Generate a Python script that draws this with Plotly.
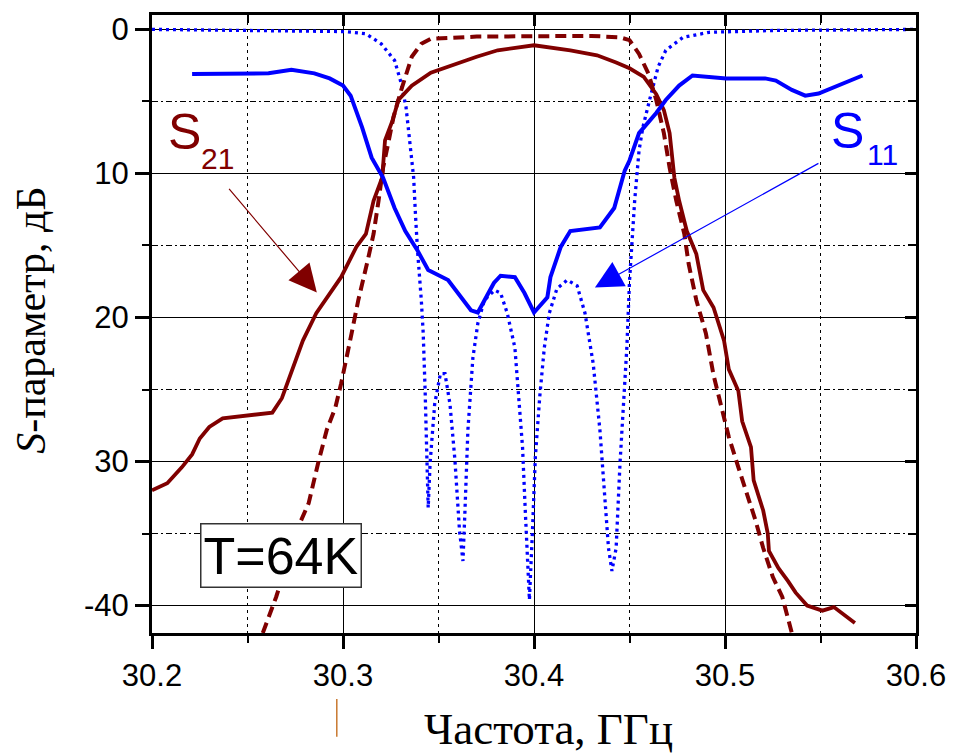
import plotly.graph_objects as go

# Frequency axis (GHz) and S-parameter magnitudes (dB, plotted downward)
s21_meas_f = [30.200, 30.208, 30.2156, 30.221, 30.225, 30.230, 30.237, 30.249, 30.263, 30.268,
              30.272, 30.279, 30.286, 30.293, 30.299, 30.307, 30.312, 30.316, 30.3205, 30.322,
              30.326, 30.329, 30.336, 30.346, 30.364, 30.370, 30.381, 30.400, 30.419, 30.433,
              30.443, 30.450, 30.4575, 30.464, 30.468, 30.471, 30.4735, 30.476, 30.480, 30.485,
              30.4886, 30.494, 30.4995, 30.502, 30.507, 30.509, 30.5136, 30.515, 30.520, 30.5224,
              30.523, 30.528, 30.533, 30.537, 30.543, 30.551, 30.557, 30.561, 30.568]
s21_meas_db = [31.99, 31.5, 30.4, 29.5, 28.4, 27.6, 27.0, 26.8, 26.6, 25.6,
               24.2, 21.6, 19.7, 18.4, 17.2, 15.1, 14.2, 11.9, 10.3, 7.7,
               6.3, 4.9, 3.9, 3.0, 2.15, 1.9, 1.45, 1.1, 1.45, 1.8,
               2.3, 2.7, 3.3, 4.5, 5.6, 7.2, 10.3, 11.9, 14.0, 15.6,
               18.1, 19.3, 21.6, 23.6, 25.1, 27.2, 29.0, 31.3, 33.4, 35.0,
               36.2, 37.4, 38.3, 39.1, 40.0, 40.35, 40.1, 40.5, 41.2]

s21_sim_f = [30.258, 30.265, 30.278, 30.282, 30.287, 30.2915, 30.296, 30.299, 30.3045, 30.308,
             30.313, 30.316, 30.3186, 30.321, 30.324, 30.3264, 30.3305, 30.336, 30.341, 30.346,
             30.370, 30.400, 30.430, 30.445, 30.450, 30.455, 30.460, 30.464, 30.468, 30.471,
             30.4745, 30.4787, 30.481, 30.485, 30.490, 30.494, 30.499, 30.502, 30.507, 30.511,
             30.516, 30.520, 30.525, 30.530, 30.535]
s21_sim_db = [41.9, 39.4, 34.1, 32.9, 30.1, 27.8, 26.25, 24.6, 21.1, 18.8,
              16.0, 14.2, 11.9, 9.6, 7.7, 6.1, 4.2, 1.9, 1.0, 0.65,
              0.5, 0.45, 0.45, 0.55, 0.75, 1.7, 3.1, 4.9, 7.2, 9.6,
              11.9, 14.2, 16.3, 18.8, 21.1, 24.0, 26.7, 28.3, 30.4, 32.0,
              34.1, 36.0, 38.0, 39.4, 41.9]

s11_meas_f = [30.221, 30.241, 30.261, 30.273, 30.285, 30.293, 30.300, 30.304, 30.310, 30.315,
              30.321, 30.327, 30.3326, 30.339, 30.3446, 30.355, 30.3617, 30.367, 30.3706, 30.374,
              30.379, 30.3825, 30.390, 30.395, 30.400, 30.407, 30.4086, 30.414, 30.419, 30.4345,
              30.442, 30.4475, 30.450, 30.455, 30.464, 30.469, 30.476, 30.483, 30.5006, 30.521,
              30.5266, 30.535, 30.542, 30.549, 30.5614, 30.572]
s11_meas_db = [3.1, 3.05, 3.05, 2.8, 3.05, 3.4, 3.9, 4.6, 6.8, 8.9,
               10.3, 12.4, 14.0, 15.35, 16.7, 17.4, 18.6, 19.5, 19.65, 18.8,
               17.6, 17.1, 17.2, 18.3, 19.65, 18.6, 17.2, 15.1, 14.0, 13.75,
               12.4, 9.8, 9.1, 7.2, 5.8, 4.9, 3.9, 3.2, 3.4, 3.4,
               3.55, 4.2, 4.6, 4.45, 3.75, 3.2]

s11_sim_f = [30.200, 30.250, 30.290, 30.301, 30.312, 30.320, 30.327, 30.3305, 30.333, 30.335,
             30.337, 30.338, 30.339, 30.341, 30.342, 30.343, 30.3436, 30.3446, 30.3456, 30.348,
             30.351, 30.3534, 30.356, 30.3586, 30.361, 30.3628, 30.3638, 30.3654, 30.368, 30.3706,
             30.374, 30.3794, 30.3825, 30.386, 30.390, 30.392, 30.394, 30.3955, 30.3976, 30.3992,
             30.4007, 30.403, 30.4054, 30.408, 30.412, 30.4174, 30.4226, 30.4267, 30.431, 30.4345,
             30.437, 30.439, 30.4408, 30.443, 30.445, 30.447, 30.4486, 30.450, 30.4527, 30.455,
             30.457, 30.4605, 30.465, 30.469, 30.478, 30.4917, 30.527, 30.600]
s11_sim_db = [0.0, 0.05, 0.1, 0.15, 0.3, 1.0, 2.15, 3.75, 5.4, 7.7,
              10.3, 13.0, 15.3, 18.8, 21.1, 25.1, 28.3, 33.2, 30.1, 26.0,
              23.9, 23.9, 26.0, 29.9, 34.8, 36.9, 33.6, 27.8, 22.8, 20.4,
              18.8, 18.1, 18.3, 19.7, 22.1, 25.5, 29.0, 33.6, 39.6, 34.8,
              29.7, 25.5, 22.1, 19.7, 18.0, 17.4, 17.8, 19.7, 23.2, 27.8,
              32.5, 36.0, 37.6, 36.0, 30.2, 25.5, 22.1, 17.5, 11.9, 8.4,
              6.8, 4.9, 2.6, 1.45, 0.55, 0.2, 0.07, 0.0]

x_ticks = [30.2, 30.3, 30.4, 30.5, 30.6]
x_minor = [30.25, 30.35, 30.45, 30.55]
y_ticks = [0, 10, 20, 30, 40]
y_tick_text = ["0", "10", "20", "30", "-40"]
y_minor = [5, 15, 25, 35]

DARK_RED = "#800000"
BLUE = "#0000FF"
X_RANGE = [30.2, 30.6]
Y_RANGE = [41.9, -1.0]

fig = go.Figure()
fig.add_trace(go.Scatter(x=s11_sim_f, y=s11_sim_db, mode="lines",
                         line=dict(color=BLUE, width=3.3, dash="3px,4px")))
fig.add_trace(go.Scatter(x=s21_sim_f, y=s21_sim_db, mode="lines",
                         line=dict(color=DARK_RED, width=4, dash="11px,6px")))
fig.add_trace(go.Scatter(x=s21_meas_f, y=s21_meas_db, mode="lines",
                         line=dict(color=DARK_RED, width=3.8)))
fig.add_trace(go.Scatter(x=s11_meas_f, y=s11_meas_db, mode="lines",
                         line=dict(color=BLUE, width=4)))

tick_font = dict(family="Liberation Sans, Arial", size=31, color="black")

fig.update_layout(
    width=958, height=754,
    margin=dict(l=152, r=37, t=14, b=121),
    paper_bgcolor="white", plot_bgcolor="white",
    showlegend=False,
    xaxis=dict(
        range=X_RANGE, tickmode="array", tickvals=x_ticks,
        ticktext=[f"{v:.1f}" for v in x_ticks],
        ticks="outside", ticklen=13, tickwidth=2.5, tickcolor="black",
        tickfont=tick_font,
        showgrid=True, gridcolor="black", gridwidth=1.2,
        minor=dict(tickmode="array", tickvals=x_minor,
                   ticks="outside", ticklen=7, tickwidth=2, tickcolor="black",
                   showgrid=True, gridcolor="black", gridwidth=1, griddash="3px,4px"),
        showline=True, linecolor="black", linewidth=3, mirror=True,
        zeroline=False,
    ),
    yaxis=dict(
        range=Y_RANGE, tickmode="array", tickvals=y_ticks, ticktext=y_tick_text,
        ticks="outside", ticklen=14, tickwidth=2.5, tickcolor="black",
        tickfont=tick_font,
        showgrid=True, gridcolor="black", gridwidth=1.2,
        minor=dict(tickmode="array", tickvals=y_minor,
                   ticks="outside", ticklen=7, tickwidth=2, tickcolor="black",
                   showgrid=True, gridcolor="black", gridwidth=1,
                   griddash="6px,3px,2px,3px"),
        showline=True, linecolor="black", linewidth=3, mirror=True,
        zeroline=False,
    ),
    # inward ticks along the top and right edges of the frame
    xaxis2=dict(
        range=X_RANGE, overlaying="x", side="top", anchor="y",
        tickmode="array", tickvals=x_ticks, showticklabels=False,
        ticks="inside", ticklen=11, tickwidth=2.5, tickcolor="black",
        minor=dict(tickmode="array", tickvals=x_minor,
                   ticks="inside", ticklen=8, tickwidth=2, tickcolor="black"),
        showgrid=False, zeroline=False, showline=False,
    ),
    yaxis2=dict(
        range=Y_RANGE, overlaying="y", side="right", anchor="x",
        tickmode="array", tickvals=y_ticks, showticklabels=False,
        ticks="inside", ticklen=11, tickwidth=2.5, tickcolor="black",
        minor=dict(tickmode="array", tickvals=y_minor,
                   ticks="inside", ticklen=8, tickwidth=2, tickcolor="black"),
        showgrid=False, zeroline=False, showline=False,
    ),
)

# invisible trace so the mirror axes are rendered
fig.add_trace(go.Scatter(x=[X_RANGE[0]], y=[0], xaxis="x2", yaxis="y2",
                         mode="markers", marker=dict(opacity=0), hoverinfo="skip"))

serif = "Liberation Serif"
sans = "Liberation Sans"
annotations = [
    # axis titles
    dict(text="Частота, ГГц", xref="paper", yref="paper", x=0.519, y=-0.112,
         xanchor="center", yanchor="top", showarrow=False,
         font=dict(family=serif, size=45, color="black")),
    dict(text="<i>S</i>-параметр, дБ", xref="paper", yref="paper", x=-0.158, y=0.5057,
         xanchor="center", yanchor="middle", textangle=-90, showarrow=False,
         font=dict(family=serif, size=42, color="black")),
    # curve labels
    dict(text="S", xref="paper", yref="paper", x=(185 - 152) / 769, y=(633 - 131) / 619,
         xanchor="center", yanchor="middle", showarrow=False,
         font=dict(family=sans, size=50, color=DARK_RED)),
    dict(text="21", xref="paper", yref="paper", x=(218 - 152) / 769, y=(633 - 158) / 619,
         xanchor="center", yanchor="middle", showarrow=False,
         font=dict(family=sans, size=30, color=DARK_RED)),
    dict(text="S", xref="paper", yref="paper", x=(852 - 152) / 769, y=(633 - 130) / 619,
         xanchor="center", yanchor="middle", showarrow=False,
         font=dict(family=sans, size=50, color=BLUE)),
    dict(text="11", xref="paper", yref="paper", x=(887 - 152) / 769, y=(633 - 154) / 619,
         xanchor="center", yanchor="middle", showarrow=False,
         font=dict(family=sans, size=30, color=BLUE)),
    # pointer arrows
    dict(text="", x=30.2863, y=18.26, xref="x", yref="y", ax=-89, ay=-105,
         showarrow=True, arrowhead=2, arrowwidth=1.2, arrowsize=4.6, arrowcolor=DARK_RED),
    dict(text="", x=30.4319, y=17.92, xref="x", yref="y", ax=225, ay=-125,
         showarrow=True, arrowhead=2, arrowwidth=1.2, arrowsize=4.6, arrowcolor=BLUE),
    # temperature box
    dict(text="T=64K", x=30.2676, y=36.5, xref="x", yref="y", showarrow=False,
         xanchor="center", yanchor="middle",
         font=dict(family=sans, size=52, color="black"),
         bgcolor="white", bordercolor="#333333", borderwidth=1.5, borderpad=2),
]
fig.update_layout(annotations=annotations)

# small stray tick below the axis labels
fig.add_shape(type="line", xref="paper", yref="paper",
              x0=(338 - 152) / 769, x1=(338 - 152) / 769,
              y0=(633 - 699) / 619, y1=(633 - 737) / 619,
              line=dict(color="#C8782F", width=1.5))

fig.write_html("out.html")
